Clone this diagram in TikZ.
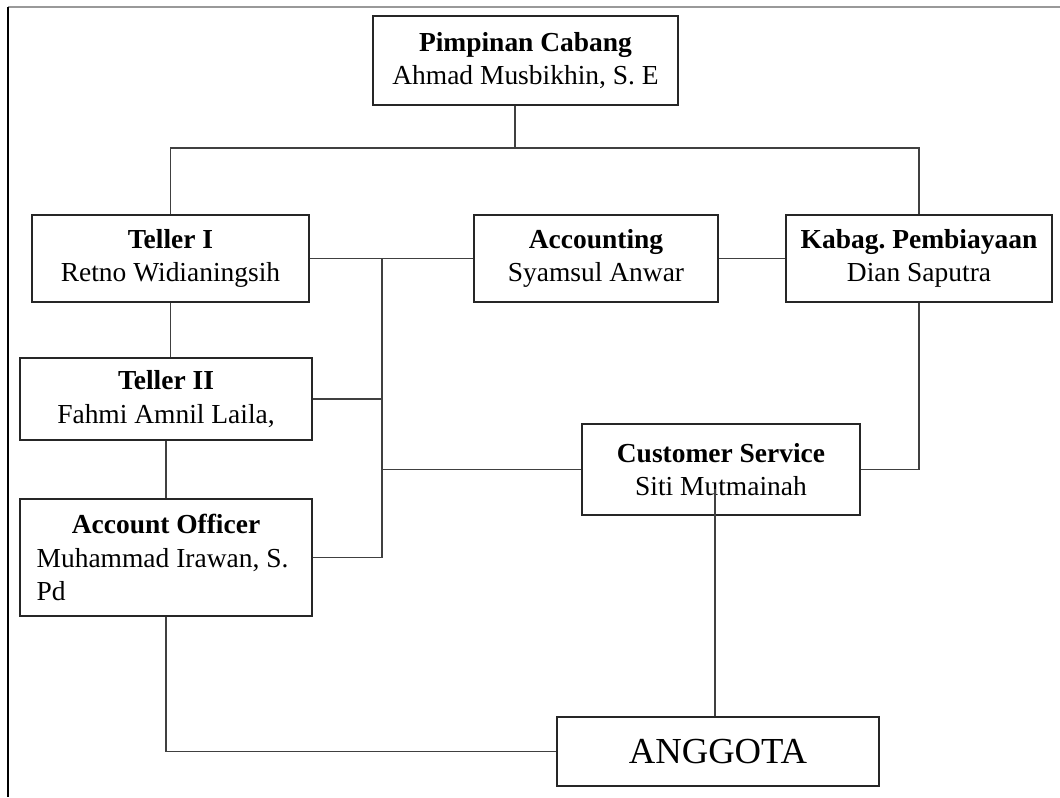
\documentclass[tikz,border=0pt]{standalone}
\usepackage{fontspec}
\setmainfont{Liberation Serif}
\usetikzlibrary{calc}
\frenchspacing

\begin{document}
\begin{tikzpicture}[x=0.75pt,y=-0.75pt,
    unitbox/.style={draw=black!85,line width=0.9pt,inner sep=2pt,align=center,
      font=\fontsize{20.6}{25}\selectfont},
    link/.style={draw=black!75,line width=1pt}]
 \useasboundingbox (0,0) rectangle (1060,797);
 % page edge
 \draw[black!40,line width=0.8pt] (8,7) -- (1060,7);
 \draw[black,line width=1pt] (8,7) -- (8,797);
 % units
 \node[unitbox,minimum width=228.75pt,minimum height=66.75pt] (pimpinan) at (525.5,60.5)
   {\textbf{Pimpinan Cabang}\\Ahmad Musbikhin, S. E};
 \node[unitbox,minimum width=207.75pt,minimum height=65.25pt] (teller1) at (170.5,258.5)
   {\textbf{Teller I}\\Retno Widianingsih};
 \node[unitbox,minimum width=183pt,minimum height=65.25pt] (accounting) at (596,258.5)
   {\textbf{Accounting}\\Syamsul Anwar};
 \node[unitbox,minimum width=199.5pt,minimum height=65.25pt] (kabag) at (919,258.5)
   {\textbf{Kabag. Pembiayaan}\\Dian Saputra};
 \node[unitbox,minimum width=219pt,minimum height=61.5pt] (teller2) at (166,399)
   {\textbf{Teller II}\\Fahmi Amnil Laila,};
 \node[unitbox,minimum width=219pt,minimum height=87.75pt,text width=194pt,align=left] (officer) at (166,557.5)
   {\spaceskip=0pt\xspaceskip=0pt\centering\textbf{Account Officer}\par\raggedright Muhammad Irawan, S.\\Pd};
 \node[unitbox,minimum width=208.5pt,minimum height=68.25pt] (service) at (721,469.5)
   {\textbf{Customer Service}\\Siti Mutmainah};
 \node[unitbox,minimum width=241.5pt,minimum height=51.75pt,font=\fontsize{27.5}{30}\selectfont] (anggota) at (718,751.5)
   {ANGGOTA};
 % connectors
 \coordinate (top) at (515,148);
 \coordinate (bus) at (382,262);
 \draw[link] (pimpinan.south -| top) -- (top);
 \draw[link] (teller1.north) |- (top) -| (kabag.north);
 \draw[link] (teller1.south) -- (teller1.south |- teller2.north);
 \draw[link] (teller2.south) -- (officer.north);
 \draw[link] (teller1.east) -- (accounting.west);
 \draw[link] (accounting.east) -- (kabag.west);
 \draw[link] (teller1.east -| bus) -- (officer.east -| bus);
 \draw[link] (teller2.east) -- (teller2.east -| bus);
 \draw[link] (officer.east) -- (officer.east -| bus);
 \draw[link] (service.west -| bus) -- (service.west);
 \draw[link] (service.east) -| (kabag.south);
 \draw[link] (anggota.north -| 715,0) -- ($(service.center -| 715,0)+(0,19)$);
 \draw[link] (officer.south) |- (anggota.west);
\end{tikzpicture}
\end{document}
